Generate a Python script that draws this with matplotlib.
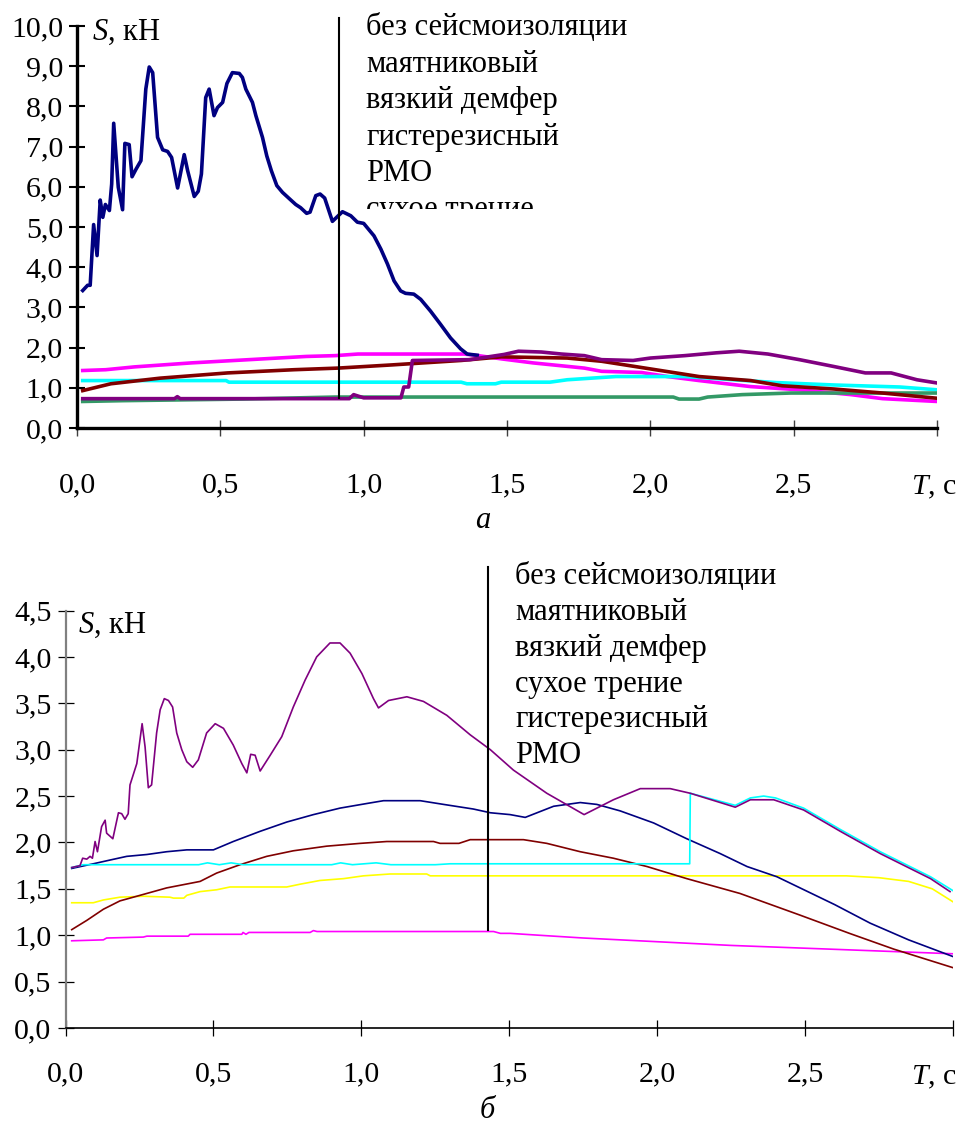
import matplotlib
matplotlib.use("Agg")
import matplotlib.pyplot as plt
from matplotlib.transforms import Bbox, TransformedBbox

plt.rcParams['font.family'] = ['Liberation Serif', 'DejaVu Serif']
plt.rcParams['mathtext.fontset'] = 'custom'
plt.rcParams['mathtext.rm'] = 'Liberation Serif'
plt.rcParams['mathtext.it'] = 'Liberation Serif:italic'

# ---------------- Panel a data ----------------
labels_a = ["без сейсмоизоляции", "маятниковый", "вязкий демфер",
            "гистерезисный", "РМО", "сухое трение"]

a_none_T = [0.02, 0.037, 0.046, 0.058, 0.07, 0.081, 0.09, 0.099, 0.113, 0.121, 0.128, 0.144,
            0.159, 0.167, 0.182, 0.192, 0.206, 0.223, 0.24, 0.252, 0.264, 0.281, 0.299, 0.316,
            0.33, 0.351, 0.374, 0.386, 0.409, 0.423, 0.434, 0.449, 0.461, 0.478, 0.49, 0.508,
            0.523, 0.542, 0.566, 0.577, 0.589, 0.612, 0.624, 0.647, 0.662, 0.678, 0.697, 0.717,
            0.746, 0.763, 0.78, 0.801, 0.813, 0.833, 0.848, 0.864, 0.891, 0.926, 0.955, 0.978,
            1.0, 1.036, 1.06, 1.083, 1.106, 1.129, 1.146, 1.175, 1.199, 1.233, 1.268, 1.303,
            1.338, 1.361, 1.396]
a_none_S = [3.42, 3.55, 3.55, 5.06, 4.29, 5.67, 5.24, 5.56, 5.41, 6.07, 7.58, 5.99,
            5.43, 7.08, 7.05, 6.25, 6.44, 6.65, 8.43, 8.98, 8.84, 7.23, 6.92, 6.88,
            6.73, 5.97, 6.80, 6.40, 5.76, 5.89, 6.32, 8.22, 8.43, 7.77, 7.97, 8.10,
            8.57, 8.84, 8.82, 8.72, 8.43, 8.10, 7.77, 7.23, 6.77, 6.40, 6.03, 5.86,
            5.67, 5.56, 5.48, 5.34, 5.37, 5.78, 5.82, 5.72, 5.14, 5.38, 5.28, 5.12,
            5.09, 4.78, 4.45, 4.08, 3.66, 3.41, 3.35, 3.33, 3.20, 2.91, 2.58, 2.24,
            1.97, 1.84, 1.81]

a_pend_T = [0.02, 0.1, 0.2, 0.3, 0.4, 0.5, 0.6, 0.7, 0.8, 0.9, 0.98, 1.35, 1.40, 1.48, 1.59,
            1.77, 1.83, 1.97, 2.06, 2.17, 2.35, 2.52, 2.70, 2.81, 3.0]
a_pend_S = [1.43, 1.45, 1.52, 1.57, 1.62, 1.66, 1.70, 1.74, 1.78, 1.80, 1.84, 1.84, 1.80, 1.72, 1.62,
            1.49, 1.41, 1.38, 1.28, 1.18, 1.03, 0.95, 0.83, 0.73, 0.66]

a_visc_T = [0.02, 0.118, 0.29, 0.525, 0.757, 0.91, 1.10, 1.34, 1.48, 1.71, 1.83, 2.0, 2.17,
            2.35, 2.46, 2.64, 2.81, 3.0]
a_visc_S = [0.93, 1.10, 1.24, 1.37, 1.45, 1.49, 1.57, 1.68, 1.77, 1.74, 1.66, 1.47, 1.28,
            1.18, 1.05, 0.97, 0.87, 0.74]

a_hyst_T = [0.02, 0.52, 0.53, 1.34, 1.36, 1.46, 1.48, 1.65, 1.71, 1.88, 2.12, 2.29, 2.44,
            2.64, 2.87, 3.0]
a_hyst_S = [1.18, 1.18, 1.14, 1.14, 1.10, 1.10, 1.14, 1.14, 1.20, 1.28, 1.28, 1.20, 1.13,
            1.07, 1.02, 0.95]

a_rmo_T = [0.02, 0.34, 0.35, 0.36, 0.95, 0.965, 1.0, 1.13, 1.14, 1.157, 1.17, 1.37, 1.49,
           1.54, 1.62, 1.69, 1.77, 1.83, 1.94, 2.0, 2.12, 2.23, 2.31, 2.41, 2.52, 2.64,
           2.75, 2.84, 2.93, 3.0]
a_rmo_S = [0.73, 0.73, 0.78, 0.73, 0.73, 0.83, 0.75, 0.75, 1.02, 1.02, 1.68, 1.70, 1.83,
           1.91, 1.89, 1.84, 1.80, 1.70, 1.68, 1.74, 1.80, 1.87, 1.91, 1.84, 1.70, 1.53,
           1.37, 1.37, 1.20, 1.12]

a_dry_T = [0.02, 0.16, 0.58, 0.90, 2.08, 2.10, 2.17, 2.20, 2.32, 2.49, 3.0]
a_dry_S = [0.66, 0.68, 0.72, 0.77, 0.77, 0.72, 0.72, 0.77, 0.83, 0.87, 0.87]

# ---------------- Panel b data ----------------
labels_b = ["без сейсмоизоляции", "маятниковый", "вязкий демфер",
            "сухое трение", "гистерезисный", "РМО"]

b_none_T = [0.021, 0.049, 0.058, 0.072, 0.083, 0.091, 0.10, 0.108, 0.122, 0.134, 0.139, 0.16,
            0.179, 0.19, 0.201, 0.212, 0.218, 0.241, 0.259, 0.269, 0.28, 0.291, 0.308, 0.32,
            0.334, 0.348, 0.362, 0.376, 0.393, 0.41, 0.43, 0.449, 0.477, 0.506, 0.534, 0.567,
            0.596, 0.613, 0.626, 0.641, 0.658, 0.692, 0.731, 0.77, 0.81, 0.849, 0.894, 0.928,
            0.962, 1.002, 1.041, 1.058, 1.092, 1.154, 1.21, 1.289, 1.368, 1.436, 1.514, 1.627,
            1.753, 1.852, 1.943, 2.044, 2.112, 2.264, 2.315, 2.394, 2.495, 2.619, 2.754, 2.924,
            2.99]
b_none_S = [1.73, 1.75, 1.83, 1.82, 1.85, 1.83, 2.01, 1.90, 2.17, 2.24, 2.10, 2.04,
            2.32, 2.31, 2.25, 2.31, 2.62, 2.85, 3.28, 3.03, 2.59, 2.62, 3.18, 3.43,
            3.55, 3.53, 3.46, 3.18, 3.00, 2.87, 2.81, 2.89, 3.18, 3.28, 3.23, 3.05,
            2.85, 2.75, 2.95, 2.94, 2.77, 2.94, 3.14, 3.46, 3.75, 4.00, 4.15, 4.15,
            4.04, 3.82, 3.55, 3.45, 3.53, 3.57, 3.52, 3.37, 3.16, 3.00, 2.78, 2.53,
            2.30, 2.46, 2.58, 2.58, 2.53, 2.38, 2.46, 2.46, 2.35, 2.12, 1.88, 1.61,
            1.47]

b_pend_T = [0.021, 0.094, 0.15, 0.207, 0.275, 0.342, 0.41, 0.50, 0.567, 0.658, 0.748, 0.838,
            0.928, 1.019, 1.075, 1.199, 1.278, 1.379, 1.436, 1.503, 1.554, 1.65, 1.74, 1.796,
            1.875, 1.988, 2.10, 2.213, 2.304, 2.405, 2.6, 2.72, 2.85, 3.0]
b_pend_S = [1.72, 1.77, 1.81, 1.85, 1.87, 1.90, 1.92, 1.92, 2.01, 2.12, 2.22, 2.30,
            2.37, 2.42, 2.45, 2.45, 2.41, 2.36, 2.32, 2.30, 2.27, 2.39, 2.43, 2.41,
            2.34, 2.21, 2.04, 1.88, 1.74, 1.63, 1.33, 1.13, 0.95, 0.77]

b_visc_T = [0.021, 0.072, 0.128, 0.184, 0.252, 0.342, 0.455, 0.511, 0.59, 0.68, 0.77, 0.883,
            0.996, 1.086, 1.244, 1.266, 1.33, 1.368, 1.548, 1.627, 1.74, 1.852, 1.966, 2.10,
            2.28, 2.48, 2.65, 2.80, 3.0]
b_visc_S = [1.06, 1.16, 1.28, 1.37, 1.43, 1.51, 1.58, 1.67, 1.76, 1.85, 1.91, 1.96,
            1.99, 2.01, 2.01, 1.99, 1.99, 2.03, 2.03, 1.99, 1.90, 1.83, 1.74, 1.61,
            1.45, 1.22, 1.02, 0.85, 0.65]

b_dry_T = [0.021, 0.06, 0.45, 0.48, 0.52, 0.56, 0.60, 0.90, 0.93, 0.97, 1.05, 1.10, 1.25,
           1.30, 2.11, 2.112, 2.264, 2.315, 2.36, 2.40, 2.495, 2.619, 2.754, 2.924, 3.0]
b_dry_S = [1.73, 1.76, 1.76, 1.78, 1.76, 1.78, 1.76, 1.76, 1.78, 1.76, 1.78, 1.76, 1.76,
           1.77, 1.77, 2.53, 2.40, 2.48, 2.50, 2.48, 2.37, 2.14, 1.90, 1.63, 1.48]

b_hyst_T = [0.021, 0.094, 0.128, 0.184, 0.263, 0.353, 0.365, 0.40, 0.41, 0.455, 0.511, 0.556,
            0.748, 0.793, 0.86, 0.94, 1.007, 1.097, 1.221, 1.233, 2.64, 2.75, 2.85, 2.93, 3.0]
b_hyst_S = [1.35, 1.35, 1.38, 1.41, 1.42, 1.41, 1.40, 1.40, 1.43, 1.47, 1.49, 1.52,
            1.52, 1.55, 1.59, 1.61, 1.64, 1.66, 1.66, 1.64, 1.64, 1.62, 1.58, 1.50, 1.36]

b_rmo_T = [0.021, 0.128, 0.139, 0.263, 0.275, 0.415, 0.421, 0.596, 0.60, 0.61, 0.62, 0.827,
           0.838, 0.85, 1.447, 1.47, 1.503, 1.6, 1.75, 2.0, 2.25, 2.5, 2.75, 3.0]
b_rmo_S = [0.94, 0.95, 0.97, 0.98, 0.99, 0.99, 1.01, 1.01, 1.03, 1.01, 1.03, 1.03,
           1.05, 1.04, 1.04, 1.02, 1.02, 1.00, 0.97, 0.93, 0.89, 0.86, 0.83, 0.80]

x_ticks = [0.0, 0.5, 1.0, 1.5, 2.0, 2.5, 3.0]
y_ticks_a = [0, 1, 2, 3, 4, 5, 6, 7, 8, 9, 10]
y_ticks_b = [0.0, 0.5, 1.0, 1.5, 2.0, 2.5, 3.0, 3.5, 4.0, 4.5]

# legend-box edge lines (T, S_low, S_high)
legend_edge_a = (0.913, 0.75, 10.2)
legend_edge_b = (1.427, 1.06, 4.97)


def comma(v):
    return f"{v:.1f}".replace('.', ',')


W, H = 958, 1135
fig = plt.figure(figsize=(W / 100, H / 100), dpi=100)
FS_TICK = 21.5
FS_TXT = 22

# ---------------- Panel a ----------------
axA = fig.add_axes([77 / W, 1 - 428 / H, (937 - 77) / W, (428 - 26) / H])
axA.set_xlim(0, 3)
axA.set_ylim(0, 10)
lw_a = 2.6
axA.plot(a_none_T, a_none_S, color='#000080', lw=lw_a, label=labels_a[0], zorder=3)
axA.plot(a_pend_T, a_pend_S, color='#FF00FF', lw=lw_a, label=labels_a[1], zorder=2)
axA.plot(a_hyst_T, a_hyst_S, color='#00FFFF', lw=lw_a, label=labels_a[3], zorder=2)
axA.plot(a_dry_T, a_dry_S, color='#339966', lw=lw_a, label=labels_a[5], zorder=2)
axA.plot(a_visc_T, a_visc_S, color='#800000', lw=lw_a, label=labels_a[2], zorder=3)
axA.plot(a_rmo_T, a_rmo_S, color='#800080', lw=lw_a, label=labels_a[4], zorder=3)
axA.plot([legend_edge_a[0]] * 2, legend_edge_a[1:], color='black', lw=1.5, clip_on=False, zorder=4)

for s in ['top', 'right']:
    axA.spines[s].set_visible(False)
for s in ['left', 'bottom']:
    axA.spines[s].set_linewidth(2.4)
axA.set_xticks(x_ticks)
axA.set_xticklabels([comma(v) for v in x_ticks[:-1]] + [''], fontsize=FS_TICK)
axA.set_yticks(y_ticks_a)
axA.set_yticklabels([comma(v) for v in y_ticks_a], fontsize=FS_TICK)
axA.tick_params(axis='x', direction='inout', length=12, width=1.0, color='#404040', pad=26)
axA.tick_params(axis='y', direction='inout', length=12, width=1.5, color='black', pad=4)
fig.text(957 / W, 1 - 494 / H, '$T$, с', fontsize=FS_TICK, ha='right', va='baseline')
fig.text(92 / W, 1 - 40 / H, '$S$, кН', fontsize=FS_TXT, va='baseline', ha='left')

clip_a = TransformedBbox(Bbox([[0, 1 - 209 / H], [1, 1]]), fig.transFigure)
base_a = [35, 72, 108, 145, 181, 217]
for lab, yb in zip(labels_a, base_a):
    t = fig.text(366 / W, 1 - yb / H, lab, fontsize=FS_TXT, va='baseline', ha='left')
    t.set_clip_box(clip_a)
    t.set_clip_on(True)

fig.text(483 / W, 1 - 520 / H, 'а', fontsize=FS_TXT, style='italic', ha='center', va='center')

# ---------------- Panel b ----------------
axB = fig.add_axes([65.5 / W, 1 - 1028 / H, (953 - 65.5) / W, (1028 - 610.5) / H])
axB.set_xlim(0, 3)
axB.set_ylim(0, 4.5)
lw_b = 1.2
axB.plot(b_rmo_T, b_rmo_S, color='#FF00FF', lw=lw_b, label=labels_b[5])
axB.plot(b_hyst_T, b_hyst_S, color='#FFFF00', lw=lw_b, label=labels_b[4])
axB.plot(b_visc_T, b_visc_S, color='#800000', lw=lw_b, label=labels_b[2])
axB.plot(b_pend_T, b_pend_S, color='#000080', lw=lw_b, label=labels_b[1])
axB.plot(b_dry_T, b_dry_S, color='#00FFFF', lw=lw_b, label=labels_b[3])
axB.plot(b_none_T, b_none_S, color='#800080', lw=lw_b, label=labels_b[0])
axB.plot([legend_edge_b[0]] * 2, legend_edge_b[1:], color='black', lw=1.5, clip_on=False, zorder=4)

for s in ['top', 'right']:
    axB.spines[s].set_visible(False)
axB.spines['left'].set_linewidth(1.6)
axB.spines['left'].set_color('#808080')
axB.spines['bottom'].set_linewidth(1.2)
axB.set_xticks(x_ticks)
axB.set_xticklabels([comma(v) for v in x_ticks[:-1]] + [''], fontsize=FS_TICK)
axB.set_yticks(y_ticks_b)
axB.set_yticklabels([comma(v) for v in y_ticks_b], fontsize=FS_TICK)
axB.tick_params(axis='x', direction='inout', length=12, width=0.9, color='black', pad=18)
axB.tick_params(axis='y', direction='inout', length=12, width=0.9, color='black', pad=4)
fig.text(957 / W, 1 - 1084 / H, '$T$, с', fontsize=FS_TICK, ha='right', va='baseline')
fig.text(78 / W, 1 - 633 / H, '$S$, кН', fontsize=FS_TXT, va='baseline', ha='left')

base_b = [584, 620, 656, 692, 727, 763]
for lab, yb in zip(labels_b, base_b):
    fig.text(515 / W, 1 - yb / H, lab, fontsize=FS_TXT, va='baseline', ha='left')

fig.text(487 / W, 1 - 1110 / H, 'б', fontsize=FS_TXT, style='italic', ha='center', va='center')

fig.savefig('out.png', dpi=100)
